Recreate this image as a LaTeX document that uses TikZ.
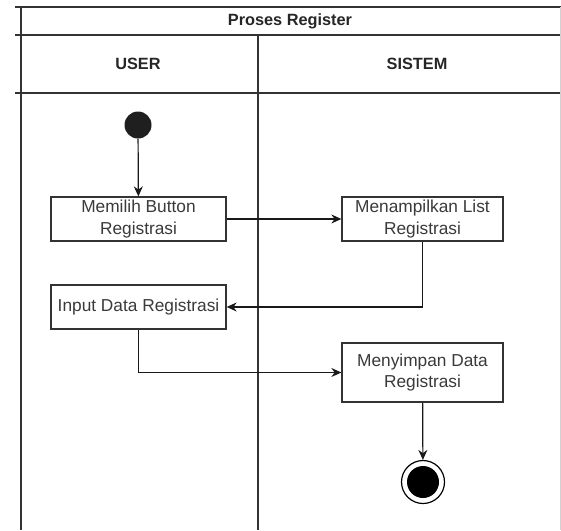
\documentclass[tikz,border=0pt]{standalone}
\usepackage{fontspec}
\setmainfont{Liberation Sans}
\usepackage{xcolor}
\usetikzlibrary{positioning, arrows.meta}
\definecolor{linegray}{HTML}{333333}
\definecolor{textgray}{HTML}{3A3A3A}

\begin{document}
\begin{tikzpicture}[x=1pt, y=-1pt, >={Stealth[length=10pt,width=9pt]},
    lane/.style={draw=linegray, line width=1.3pt},
    act/.style={draw=linegray, line width=1.3pt, fill=white, align=center,
        text=textgray, inner sep=2pt, font=\fontsize{17.3}{21.5}\selectfont},
    head/.style={text=black!85, font=\bfseries\fontsize{16.3}{19}\selectfont},
    flow/.style={->, draw=black!90, line width=1.2pt}]
    \useasboundingbox (0,0) rectangle (561,530);
    % Lanes
    \draw[lane] (15,7) -- (561,7);
    \draw[lane] (15,35) -- (561,35);
    \draw[lane] (15,93) -- (561,93);
    \draw[lane] (21,7) -- (21,530);
    \draw[lane] (258,35) -- (258,530);
    \draw[gray!35, line width=1pt] (560,7) -- (560,530);
    % Headers
    \node[head] (title) at (290,21) {Proses Register};
    \node[head] (user) at (138,64) {USER};
    \node[head] (sistem) at (417,64) {SISTEM};
    % Start
    \node[circle, fill=black!88, inner sep=0pt, minimum size=27pt] (start) at (138,125) {};
    % Activities
    \node[act, minimum width=175pt, minimum height=44pt] (memilih) at (138.5,219) {Memilih Button\\Registrasi};
    \node[act, minimum width=161pt, minimum height=44pt] (menampilkan) at (422.5,219) {Menampilkan List\\Registrasi};
    \node[act, minimum width=175pt, minimum height=44pt] (input) at (138.5,307) {Input Data Registrasi};
    \node[act, minimum width=161pt, minimum height=59pt] (menyimpan) at (422.5,372.5) {Menyimpan Data\\Registrasi};
    % End
    \node[circle, draw=black, line width=1.2pt, inner sep=0pt, minimum size=43pt] (end) at (423,482) {};
    \fill[black] (end.center) circle (16pt);
    % Flows
    \draw[flow] (start) -- (memilih);
    \draw[flow] (memilih) -- (menampilkan);
    \draw[flow] (menampilkan) |- (input);
    \draw[flow] (input) |- (menyimpan);
    \draw[flow] (menyimpan) -- (end);
\end{tikzpicture}
\end{document}
